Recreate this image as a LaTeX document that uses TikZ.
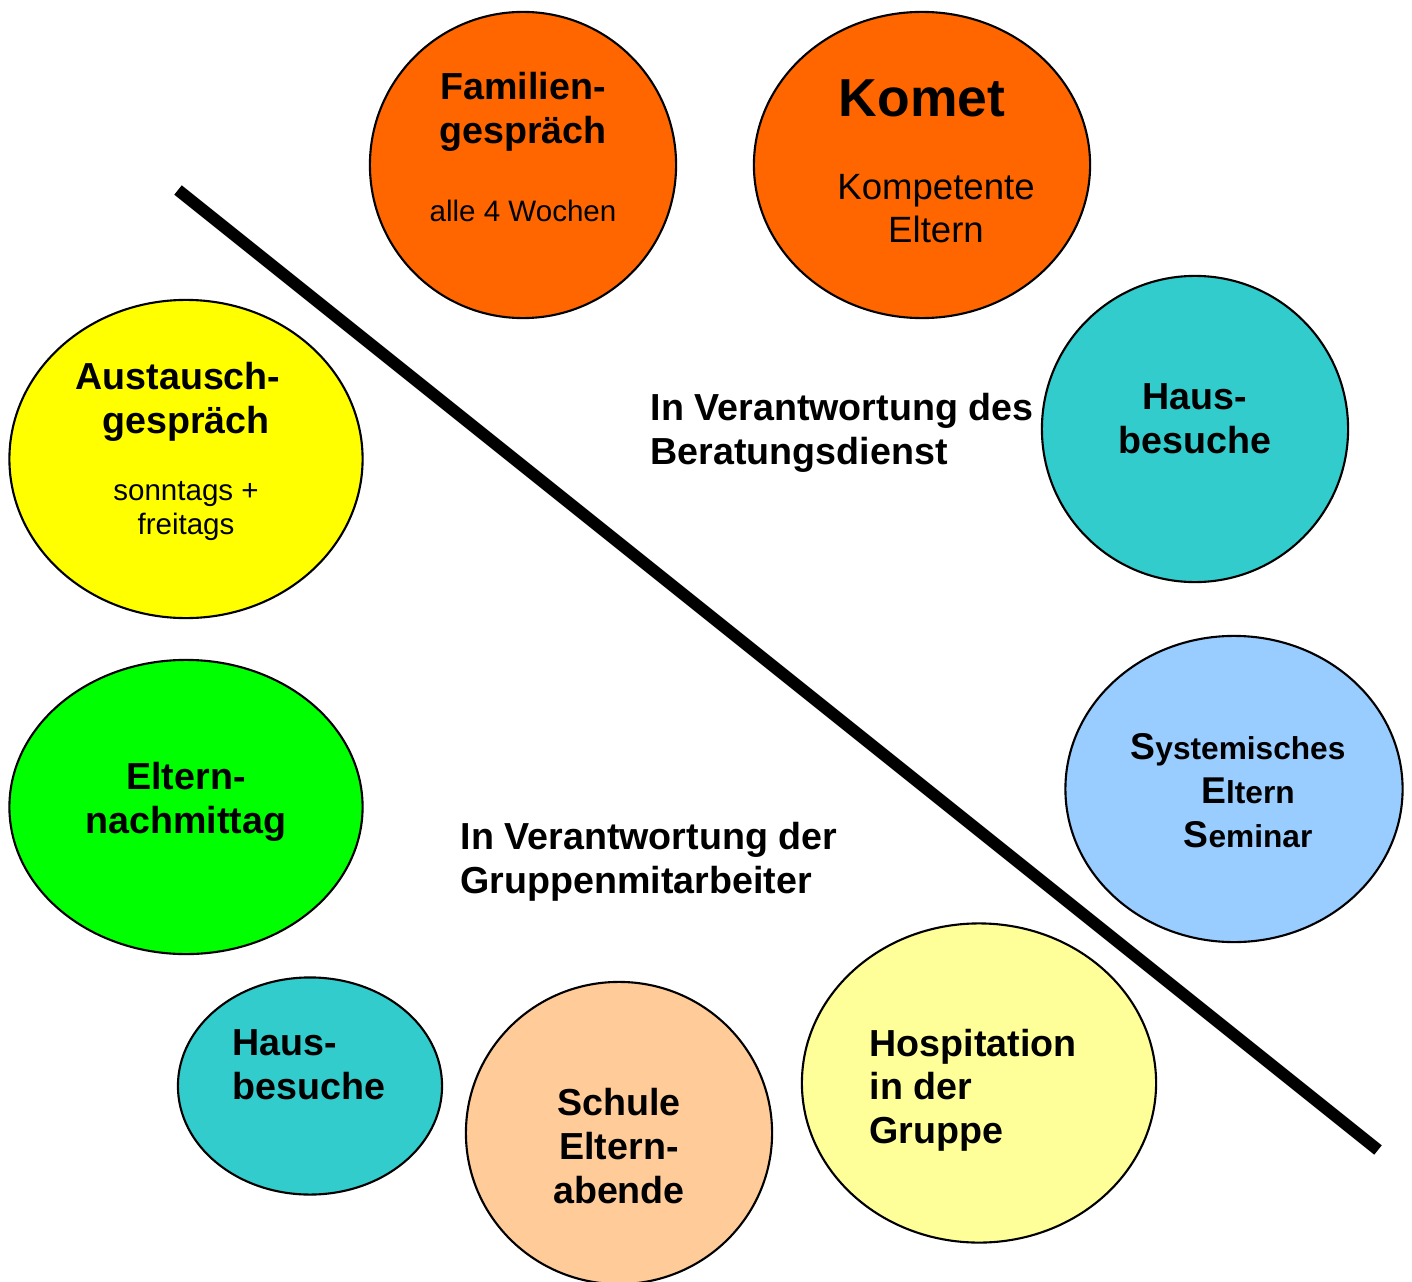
\documentclass[tikz,border=0pt]{standalone}
\usepackage{fontspec}
\setmainfont{Liberation Sans}
\usetikzlibrary{shapes.geometric}
\usepackage{color}

\definecolor{orangefill}{HTML}{FF6600}
\definecolor{tealfill}{HTML}{33CCCC}
\definecolor{yellowfill}{HTML}{FFFF00}
\definecolor{greenfill}{HTML}{00FF00}
\definecolor{bluefill}{HTML}{99CCFF}
\definecolor{palefill}{HTML}{FFFF99}
\definecolor{peachfill}{HTML}{FFCC99}

\newcommand{\bigletter}[1]{{\fontsize{10.6}{12.5}\selectfont #1}}

\begin{document}
\begin{tikzpicture}[x=0.01cm, y=-0.01cm,
        blob/.style={ellipse, draw, line width=0.6pt, inner sep=0pt},
        head/.style={font=\bfseries\fontsize{10.7}{12.4}\selectfont, align=center, inner sep=0pt},
        note/.style={font=\fontsize{8.4}{9.4}\selectfont, align=center, inner sep=0pt}
    ]
        \useasboundingbox (0,0) rectangle (1412,1282);

        % Divider
        \coordinate (cutA) at (178,190);
        \coordinate (cutB) at (1378,1150);
        \draw[line width=0.12cm] (cutA) -- (cutB);

        % Ellipses
        \node[blob, fill=orangefill, minimum width=3.06cm, minimum height=3.06cm] (famil) at (523,165) {};
        \node[blob, fill=orangefill, minimum width=3.36cm, minimum height=3.06cm] (komet) at (922,165) {};
        \node[blob, fill=tealfill, minimum width=3.06cm, minimum height=3.06cm] (hausR) at (1195,429) {};
        \node[blob, fill=yellowfill, minimum width=3.53cm, minimum height=3.18cm] (austa) at (186,459) {};
        \node[blob, fill=greenfill, minimum width=3.53cm, minimum height=2.94cm] (nachm) at (186,807) {};
        \node[blob, fill=bluefill, minimum width=3.37cm, minimum height=3.06cm] (semin) at (1234,789) {};
        \node[blob, fill=palefill, minimum width=3.54cm, minimum height=3.19cm] (hospi) at (979,1083) {};
        \node[blob, fill=peachfill, minimum width=3.06cm, minimum height=3.02cm] (schul) at (619,1133) {};
        \node[blob, fill=tealfill, minimum width=2.64cm, minimum height=2.17cm] (hausL) at (310,1086) {};

        % Texts
        \node[head] (familT) at (523,112) {Familien-\\gespräch};
        \node[note] (familN) at (523,211) {alle 4 Wochen};
        \node[head, font=\bfseries\fontsize{15.2}{16}\selectfont] (kometT) at (922,98) {Komet};
        \node[head, font=\fontsize{10.4}{12.2}\selectfont] (kometN) at (936,209) {Kompetente\\Eltern};
        \node[head] (hausRT) at (1195,419) {Haus-\\besuche};
        \node[head] (austaT) at (186,402) {Austausch-\hspace*{0.16cm}\\gespräch};
        \node[note] (austaN) at (186,511) {sonntags +\\freitags};
        \node[head] (nachmT) at (186,802) {Eltern-\\nachmittag};
        \node[head, font=\bfseries\fontsize{9}{12.5}\selectfont] (seminT) at (1238,791)
            {\bigletter{S}ystemisches\\\hspace*{0.2cm}\bigletter{E}ltern\\\hspace*{0.2cm}\bigletter{S}eminar};
        \node[head, align=left, anchor=west] (hospiT) at (869,1090) {Hospitation\\in der\\Gruppe};
        \node[head] (schulT) at (619,1146) {Schule\\Eltern-\\abende};
        \node[head, align=left, anchor=west] (hausLT) at (232,1065) {Haus-\\besuche};

        % Areas
        \node[head, align=left, anchor=west] (berat) at (650,433) {In Verantwortung des\\Beratungsdienst};
        \node[head, align=left, anchor=west] (grupp) at (460,862) {In Verantwortung der\\Gruppenmitarbeiter};
    \end{tikzpicture}
\end{document}
